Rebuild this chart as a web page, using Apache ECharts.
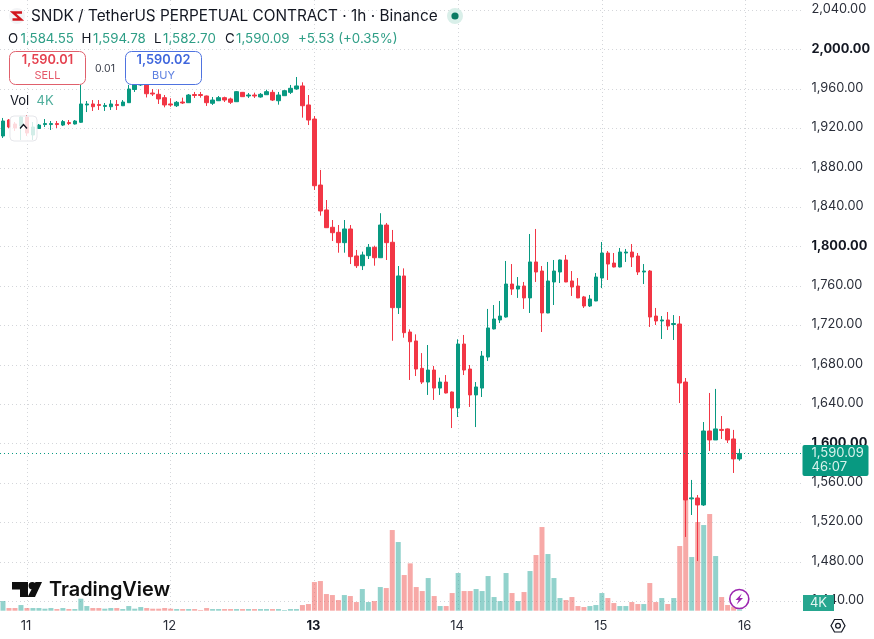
<!DOCTYPE html>
<html>
<head>
<meta charset="utf-8">
<title>SNDK / TetherUS perpetual, 1h</title>
<script src="https://cdn.jsdelivr.net/npm/echarts@6/dist/echarts.min.js"></script>
<style>html,body{margin:0;padding:0;background:#fff}#chart{width:874px;height:639px}</style>
</head>
<body>
<div id="chart"></div>
<script>
// Hourly candles, oldest first
const opens = [
  1912.4,1928.6,1924.6,1922.5,1931.7,1913.4,1920,1924,1924,1925,
  1923.5,1926,1924.6,1926.3,1943.9,1944.9,1944.4,1942.4,1942.1,1944.4,
  1943.1,1946.2,1959.6,1964.2,1965.2,1956,1954.7,1951.3,1944.9,1943.1,
  1946.9,1946.2,1954.5,1954.5,1953,1945.6,1948.2,1951.3,1950,1947.2,
  1956.7,1953,1954,1952,1954.3,1956.7,1948.2,1953.3,1956.7,1960.1,
  1963.2,1943.9,1929.6,1862.6,1837.3,1819.7,1814.6,1804.1,1818,1790.6,
  1780.7,1790.9,1799.4,1788.8,1822,1804.5,1738.1,1770.3,1713.4,1704.3,
  1676.5,1662.6,1674.8,1656.5,1662.6,1652.5,1636.3,1701.2,1675.8,1649.5,
  1656.5,1688,1716.5,1725.6,1728.6,1762.1,1757,1760.1,1748,1784.5,
  1775.3,1732.7,1764.2,1774.3,1786.5,1765.2,1760.1,1749,1739.8,1744.9,
  1768.2,1793.6,1783.4,1779.4,1793.6,1794.6,1790.5,1774.3,1775.3,1729.6,
  1724.6,1725.6,1721,1721.5,1662.6,1544,1544.9,1537.8,1612.9,1603.8,
  1614.5,1615,1604.8,1584.55
];
const closes = [
  1927.6,1921.5,1920.5,1931.7,1915.4,1921.5,1923.5,1925,1925,1924,
  1927,1925,1927.6,1944.9,1944.9,1942.1,1943.4,1943.4,1944.9,1943.4,
  1946.9,1960.1,1965.2,1965.2,1955.3,1955,1950,1943.9,1943.9,1946.6,
  1945.9,1954,1953.5,1953.5,1946.2,1948.9,1951.3,1948.9,1946.6,1957.4,
  1952.3,1954,1953,1954.7,1957.4,1948.9,1954,1958.4,1960.8,1963.2,
  1943.1,1928.6,1861.9,1836.3,1819.3,1814.2,1804.1,1818,1789.9,1780.7,
  1791.6,1799.4,1788.8,1822,1804.1,1738.1,1770.3,1712.7,1703.5,1675.8,
  1662.6,1674.8,1656.5,1662.6,1651.5,1636.3,1701.2,1674.8,1649.5,1657.6,
  1689,1717.5,1726.6,1729.6,1762.1,1757,1760.1,1748,1784.5,1774.3,
  1732.7,1765.2,1775.3,1786.5,1764.2,1759.1,1748,1739.8,1746.9,1769.2,
  1793.6,1782.4,1779.4,1794.6,1794.6,1789.5,1774.3,1775.3,1728.6,1724.6,
  1725.6,1719.5,1722,1661.6,1542.9,1545,1537.8,1612.9,1603.8,1615,
  1613.5,1603.8,1584.55,1590.09
];
const lows = [
  1910.4,1920.5,1917.5,1908.3,1912.4,1908.3,1919.5,1921.5,1918.5,1920.5,
  1922.5,1923.5,1924,1925.6,1936.7,1937.8,1938.8,1937.8,1938.8,1938.8,
  1942.8,1945.9,1957.1,1963.2,1951.5,1953,1944.9,1941.5,1942.1,1941.8,
  1944.9,1945.9,1951,1951.3,1942.9,1943.9,1947.9,1946.9,1944.9,1946.9,
  1952,1951,1951,1951.3,1954,1947.9,1944.2,1953,1955,1959.4,
  1931,1923.5,1857.6,1831.5,1819,1805.8,1793.9,1793.9,1782.4,1778.4,
  1776.3,1787.5,1780.7,1788.5,1786.5,1704.5,1731.7,1707.6,1664.7,1668.7,
  1660.6,1649.5,1644.4,1649.5,1651,1615.9,1627.1,1669.7,1637.3,1616.9,
  1647.4,1684,1716,1722.5,1728,1751,1748,1736.8,1732.7,1764.2,
  1713.4,1732.5,1740.8,1763.1,1764,1750,1747.8,1737.8,1738.8,1744.7,
  1758,1766.2,1779,1779,1784.5,1779.4,1771.3,1762.1,1718.5,1720.5,
  1706.3,1715.4,1705.3,1641.3,1505.3,1527.6,1480.9,1536.8,1592.6,1603.8,
  1604.8,1600.7,1570.3,1582.70
];
const highs = [
  1930.7,1929.6,1926.6,1932.7,1933.7,1926.6,1924.6,1929.6,1927.6,1927.6,
  1928.6,1928.6,1928.6,1964.2,1947.9,1948.9,1948.9,1945.9,1948.9,1948.9,
  1948.9,1964.2,1969.2,1967.2,1967.2,1960.1,1959.8,1954,1950.7,1947.9,
  1951.3,1955,1957.1,1957.1,1953.5,1952,1953,1952.3,1951.3,1958.1,
  1957.1,1956,1956.4,1956,1959.4,1959.1,1957.1,1959.1,1964.2,1972.3,
  1966.9,1954,1932.7,1877.9,1847.4,1827.1,1822,1827.1,1822,1796.7,
  1795,1802.7,1801,1834,1824.1,1817,1780.4,1778,1716.1,1711,
  1692,1700.2,1678.9,1667,1669.7,1653,1706,1710.4,1679.9,1662.6,
  1694.1,1736.8,1740.8,1744.9,1785.5,1782.4,1769.2,1764.2,1812.9,1818,
  1780.4,1784.5,1786.5,1787,1791.6,1775.3,1768.2,1750,1751,1773.3,
  1804.8,1795.6,1793.6,1798.7,1797.7,1802.7,1793.6,1782.4,1776.3,1737.8,
  1729.6,1733.7,1730.6,1729.6,1666.7,1563.2,1547.9,1622,1651.5,1655.6,
  1628.1,1615.5,1614,1594.78
];
// Traded volume per hour, in thousands
const volumes = [
  29,8,8,17,8,8,8,6,8,5,
  8,5,5,36,14,8,8,6,8,8,
  5,14,6,11,8,6,6,8,6,5,
  5,5,5,2,8,5,5,5,5,5,
  5,5,5,5,5,5,5,2,5,5,
  17,20,86,89,50,47,32,47,44,26,
  65,26,29,71,68,242,206,107,142,71,
  59,98,44,14,14,53,113,59,59,65,
  59,104,41,29,113,53,29,56,119,167,
  251,170,98,38,32,41,14,11,14,17,
  53,38,23,14,14,26,20,20,83,26,
  38,20,38,194,333,161,266,257,290,164,
  41,17,12,4
];
const dayLabels = ['11','12','13','14','15','16'];
const boldDay = '13';
const boldPrices = [2000, 1800, 1600];

const UP = '#089981', DOWN = '#F23645';
const UI_FONT = 'Inter';
const HOURS_PER_DAY = 24, FIRST_DAY_INDEX = 4, EMPTY_BANDS = 10;

// One band per hour, plus empty room to the right of the last candle
const categories = [];
for (let i = 0; i < opens.length + EMPTY_BANDS; i++) categories.push(String(i));
const isDayStart = i => (i - FIRST_DAY_INDEX) % HOURS_PER_DAY === 0;
const dayOf = i => dayLabels[(i - FIRST_DAY_INDEX) / HOURS_PER_DAY];

const candles = opens.map((o, i) => [o, closes[i], lows[i], highs[i]]);
const volumeBars = volumes.map((v, i) => ({
  value: v,
  itemStyle: { color: closes[i] >= opens[i] ? 'rgba(38,166,154,0.5)' : 'rgba(239,83,80,0.5)' }
}));
const lastClose = closes[closes.length - 1];
const lastVolume = volumes[volumes.length - 1];
const fmt = v => v.toLocaleString('en-US', { minimumFractionDigits: 2, maximumFractionDigits: 2 });

const GRID_DOT = { color: '#d4d6da', width: 1, type: [1, 3] };

// Overlay helpers
const txt = (x, y, text, fill, size, extra) => ({
  type: 'text', z: 50, silent: true,
  style: Object.assign({ x, y, text, fill, fontSize: size, fontFamily: UI_FONT, verticalAlign: 'middle', align: 'left' }, extra || {})
});
const tradeBox = (x, color) => ({
  type: 'rect', z: 49, silent: true,
  shape: { x, y: 51.5, width: 76, height: 33, r: 6 },
  style: { fill: '#fff', stroke: color, lineWidth: 1 }
});

const overlay = [
  // Symbol badge and title
  { type: 'circle', z: 49, shape: { cx: 17, cy: 16, r: 8 }, style: { fill: '#f3f4f6' } },
  { type: 'polyline', z: 50, shape: { points: [[22, 12.5], [13, 12.5], [21, 19.5], [12.5, 19.5]] }, style: { fill: null, stroke: '#d2161e', lineWidth: 2.4 } },
  txt(31, 16.5, 'SNDK / TetherUS PERPETUAL CONTRACT · 1h · Binance', '#131722', 15.35),
  { type: 'circle', z: 49, shape: { cx: 455, cy: 16, r: 8 }, style: { fill: '#d9efe9' } },
  { type: 'circle', z: 50, shape: { cx: 455, cy: 16, r: 3.6 }, style: { fill: '#0b7a63' } },

  // OHLC readout
  txt(8, 38.5, 'O', '#131722', 13.3),
  txt(20.5, 38.5, fmt(opens[opens.length - 1]), '#2e9e86', 13.3),
  txt(81.5, 38.5, 'H', '#131722', 13.3),
  txt(93, 38.5, fmt(highs[highs.length - 1]), '#2e9e86', 13.3),
  txt(154, 38.5, 'L', '#131722', 13.3),
  txt(163, 38.5, fmt(lows[lows.length - 1]), '#2e9e86', 13.3),
  txt(225, 38.5, 'C', '#131722', 13.3),
  txt(236, 38.5, fmt(lastClose), '#2e9e86', 13.3),
  txt(298, 38.5, '+5.53 (+0.35%)', '#2e9e86', 13.3),

  // Sell / buy buttons
  tradeBox(9.5, '#e0606c'),
  txt(47.5, 60.5, '1,590.01', '#e5414f', 12.8, { align: 'center', fontWeight: 600 }),
  txt(47.5, 75.5, 'SELL', '#e5596a', 11, { align: 'center', letterSpacing: 0.4 }),
  txt(105, 69, '0.01', '#3a3e4a', 10.5, { align: 'center' }),
  tradeBox(125.5, '#4f73e0'),
  txt(163.5, 60.5, '1,590.02', '#3f66dd', 12.8, { align: 'center', fontWeight: 600 }),
  txt(163.5, 75.5, 'BUY', '#5b7ee0', 11, { align: 'center', letterSpacing: 0.4 }),

  // Volume legend and collapse button
  txt(10, 101.5, 'Vol', '#131722', 13),
  txt(36.5, 101.5, lastVolume + 'K', '#4fae9c', 13, { letterSpacing: 1 }),
  { type: 'rect', z: 49, shape: { x: 10, y: 116, width: 27, height: 25, r: 4 }, style: { fill: 'rgba(255,255,255,0.82)', stroke: '#e6e7eb', lineWidth: 1 } },
  { type: 'polyline', z: 50, shape: { points: [[20, 128.5], [23.5, 124.5], [27, 128.5]] }, style: { fill: null, stroke: '#131722', lineWidth: 1.3 } },

  // Logo
  { type: 'polygon', z: 50, shape: { points: [[12, 582], [28, 582], [28, 597], [20, 597], [20, 589.5], [12, 589.5]] }, style: { fill: '#0f0f0f' } },
  { type: 'circle', z: 50, shape: { cx: 32.3, cy: 585.7, r: 3.7 }, style: { fill: '#0f0f0f' } },
  { type: 'polygon', z: 50, shape: { points: [[35.5, 582], [42, 582], [35, 597], [27.5, 597]] }, style: { fill: '#0f0f0f' } },
  txt(49, 590, 'TradingView', '#0f0f0f', 19.9, { fontWeight: 600 }),

  // Lightning badge
  { type: 'circle', z: 50, shape: { cx: 739.3, cy: 599, r: 9.5 }, style: { fill: '#fff', stroke: '#9c27b0', lineWidth: 1.6 } },
  { type: 'polygon', z: 51, shape: { points: [[741.8, 593.5], [735.5, 600], [738.7, 600], [736.6, 604.5], [743, 598], [739.8, 598]] }, style: { fill: '#9c27b0' } },

  // Volume tag on the price scale
  { type: 'rect', z: 49, shape: { x: 803, y: 595, width: 31, height: 16 }, style: { fill: '#26a68f' } },
  txt(818.5, 603, lastVolume + 'K', '#e4f5f1', 13, { align: 'center', letterSpacing: 1 }),

  // Settings hexagon
  { type: 'polygon', z: 50, shape: { points: [[831, 625.7], [834.5, 619.5], [841.5, 619.5], [845, 625.7], [841.5, 632], [834.5, 632]] }, style: { fill: '#fff', stroke: '#131722', lineWidth: 1.2 } },
  { type: 'circle', z: 51, shape: { cx: 838, cy: 625.7, r: 2.4 }, style: { fill: '#fff', stroke: '#131722', lineWidth: 1.2 } }
];

const chart = echarts.init(document.getElementById('chart'), null, { renderer: 'canvas' });
chart.setOption({
  animation: false,
  backgroundColor: '#fff',
  grid: [
    { left: -1.5, width: 804, top: 10.3, height: 591 },
    { left: -1.5, width: 804, top: 0, height: 610.7 }
  ],
  xAxis: [
    { type: 'category', gridIndex: 0, data: categories, show: false },
    {
      type: 'category', gridIndex: 1, data: categories,
      axisLine: { show: false }, axisTick: { show: false },
      axisLabel: {
        interval: isDayStart, margin: 9, color: '#2a2e39', fontSize: 13, fontFamily: UI_FONT, padding: [0, 2, 0, 0],
        formatter: (_, i) => dayOf(i) === boldDay ? '{b|' + dayOf(i) + '}' : dayOf(i),
        rich: { b: { fontWeight: 700, fontSize: 13, fontFamily: UI_FONT, color: '#131722' } }
      },
      splitLine: { show: true, interval: isDayStart, alignWithLabel: true, lineStyle: GRID_DOT }
    }
  ],
  yAxis: [
    {
      type: 'value', gridIndex: 0, position: 'right', min: 1440, max: 2040, interval: 40,
      axisLine: { show: false }, axisTick: { show: false },
      axisLabel: {
        margin: 9, color: '#2a2e39', fontSize: 12.8, fontFamily: UI_FONT, padding: [0, 0, 2, 0],
        formatter: v => boldPrices.includes(v) ? '{b|' + fmt(v) + '}' : fmt(v),
        rich: { b: { fontWeight: 700, fontSize: 12.8, fontFamily: UI_FONT, color: '#131722' } }
      },
      splitLine: { show: true, lineStyle: GRID_DOT }
    },
    { type: 'value', gridIndex: 1, min: 0, max: 1832, show: false }
  ],
  series: [
    {
      type: 'bar', name: 'Vol', xAxisIndex: 1, yAxisIndex: 1, barWidth: 5, z: 2,
      data: volumeBars
    },
    {
      type: 'candlestick', name: 'SNDK', xAxisIndex: 0, yAxisIndex: 0, barWidth: 4, z: 3,
      itemStyle: { color: UP, color0: DOWN, borderColor: UP, borderColor0: DOWN, borderWidth: 1 },
      data: candles,
      markLine: {
        silent: true, symbol: 'none', animation: false,
        lineStyle: { color: UP, width: 1, type: [1, 3] },
        label: {
          position: 'end', distance: 0, offset: [0, 7],
          formatter: fmt(lastClose) + '\n46:07',
          color: '#d8f2ec', fontSize: 13, fontFamily: UI_FONT, lineHeight: 14,
          backgroundColor: UP, padding: [3, 3, 0, 9], borderRadius: 2, width: 54
        },
        data: [{ yAxis: lastClose }]
      }
    }
  ],
  graphic: overlay
});
</script>
</body>
</html>
